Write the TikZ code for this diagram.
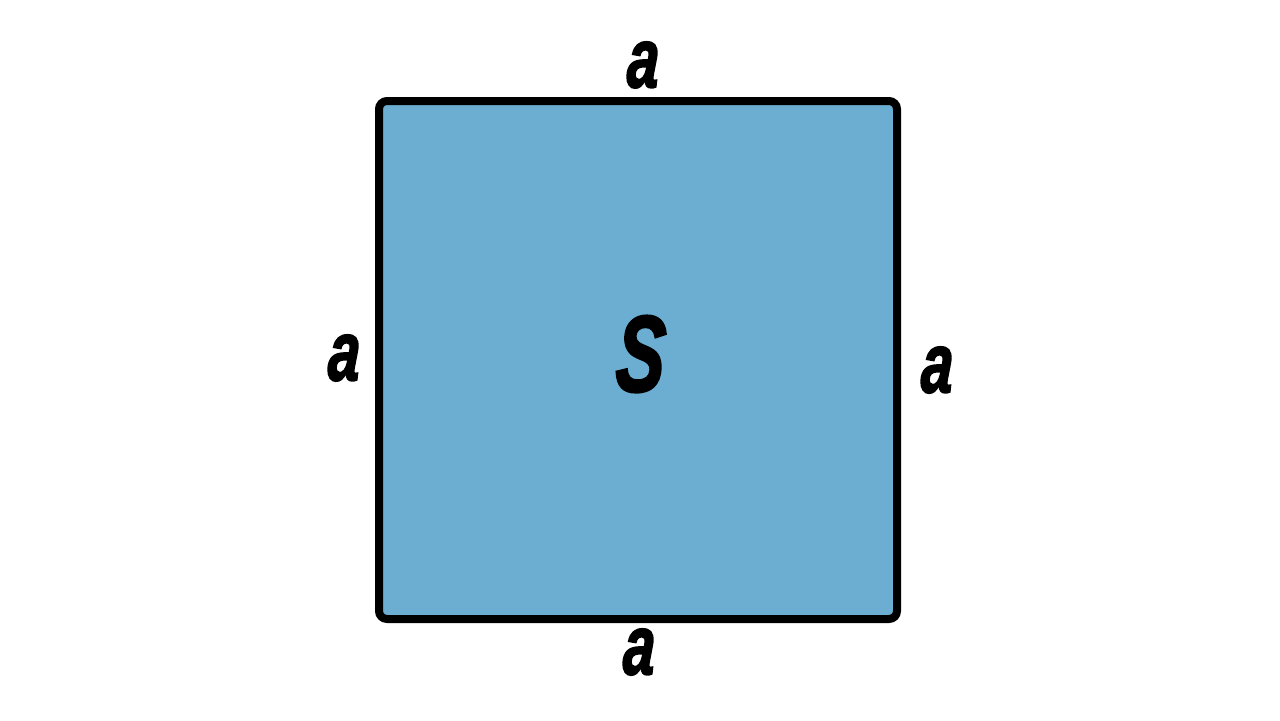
\documentclass[tikz,border=0pt]{standalone}
\usepackage{fontspec}
\setmainfont{Liberation Sans}
\newfontfamily\heavyfont[FakeBold=2.5,FakeSlant=0.08]{Liberation Sans}
\definecolor{sqfill}{RGB}{108,174,210}
\tikzset{
  sq/.style={draw=black, fill=sqfill, line width=4pt, rounded corners=4pt, minimum width=259pt, minimum height=259pt, inner sep=0pt},
  lbl/.style={inner sep=0pt, anchor=center}
}
\newcommand{\sidelbl}{\scalebox{0.68}[1]{\fontsize{42}{42}\heavyfont\bfseries\itshape a}}
\newcommand{\arealbl}{\scalebox{0.68}[1]{\fontsize{54}{54}\heavyfont\bfseries\itshape S}}
\begin{document}
\begin{tikzpicture}[x=0.5pt,y=-0.5pt]
\useasboundingbox (0,0) rectangle (1280,720);
\node[sq] (sq) at (638,360) {};
\node[lbl] (s) at (639,354) {\arealbl};
\node[lbl] (top) at (642,65) {\sidelbl};
\node[lbl] (left) at (343,358) {\sidelbl};
\node[lbl] (right) at (936,370) {\sidelbl};
\node[lbl] (bottom) at (638,652) {\sidelbl};
\end{tikzpicture}
\end{document}
